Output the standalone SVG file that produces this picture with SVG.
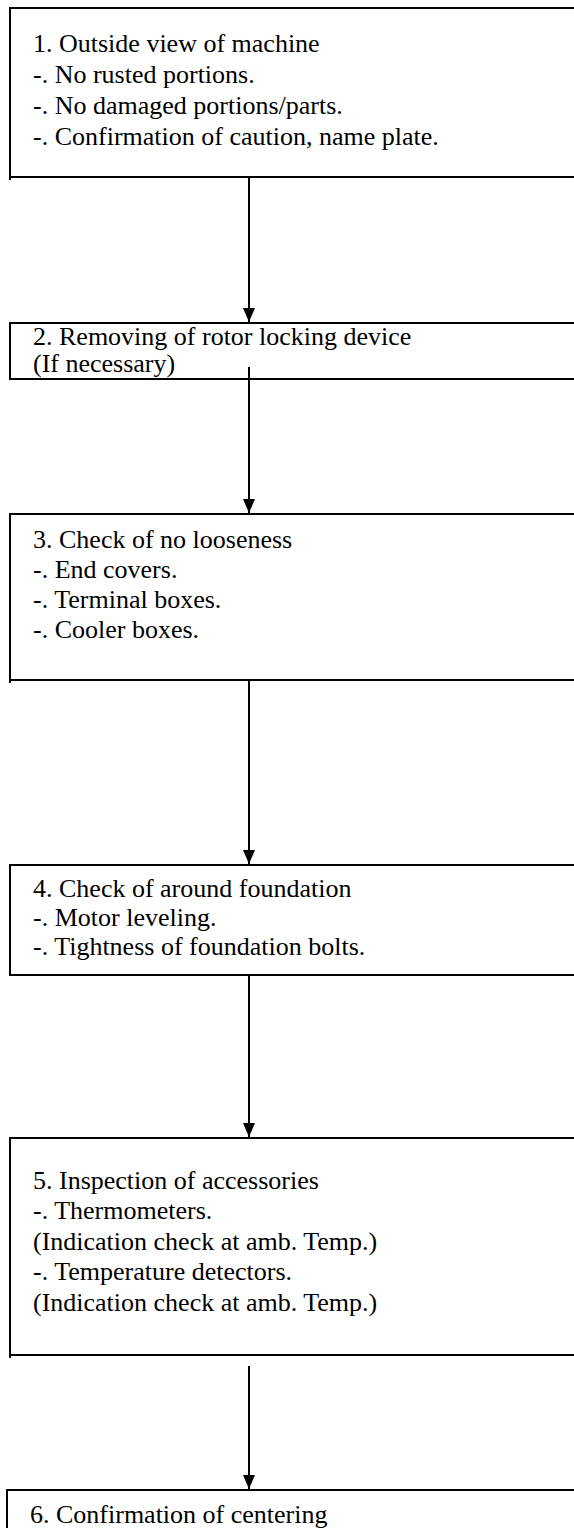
<svg xmlns="http://www.w3.org/2000/svg" width="574" height="1528" viewBox="0 0 574 1528">
<defs>
<marker id="ah" markerWidth="14" markerHeight="12" refX="14" refY="6" orient="auto" markerUnits="userSpaceOnUse" viewBox="0 0 14 12">
<path d="M0,0 L14,6 L0,12 Z" fill="#000"/>
</marker>
</defs>
<style>
.box{fill:#fff;stroke:#000;stroke-width:2}
.stub{stroke:#000;stroke-width:2}
.t{font-family:"Liberation Serif","Times New Roman",serif;font-size:26px;fill:#000}
.con{stroke:#000;stroke-width:2;fill:none}
</style>
<rect width="574" height="1528" fill="#fff"/>
<g id="node1">
<rect class="box" x="10" y="8" width="620" height="169"/>
<line class="stub" x1="10" y1="176" x2="10" y2="180"/>
<text class="t" x="33" y="52">1. Outside view of machine</text>
<text class="t" x="33" y="83">-. No rusted portions.</text>
<text class="t" x="33" y="114">-. No damaged portions/parts.</text>
<text class="t" x="33" y="145">-. Confirmation of caution, name plate.</text>
</g>
<g id="node2">
<rect class="box" x="10" y="323" width="620" height="56"/>
<text class="t" x="33" y="345">2. Removing of rotor locking device</text>
<text class="t" x="33" y="372">(If necessary)</text>
</g>
<g id="node3">
<rect class="box" x="10" y="514" width="620" height="166"/>
<line class="stub" x1="10" y1="679" x2="10" y2="683"/>
<text class="t" x="33" y="548">3. Check of no looseness</text>
<text class="t" x="33" y="578">-. End covers.</text>
<text class="t" x="33" y="608">-. Terminal boxes.</text>
<text class="t" x="33" y="638">-. Cooler boxes.</text>
</g>
<g id="node4">
<rect class="box" x="10" y="865" width="620" height="110"/>
<text class="t" x="33" y="897">4. Check of around foundation</text>
<text class="t" x="33" y="926">-. Motor leveling.</text>
<text class="t" x="33" y="955">-. Tightness of foundation bolts.</text>
</g>
<g id="node5">
<rect class="box" x="10" y="1138" width="620" height="217"/>
<line class="stub" x1="10" y1="1354" x2="10" y2="1358"/>
<text class="t" x="33" y="1189">5. Inspection of accessories</text>
<text class="t" x="33" y="1219">-. Thermometers.</text>
<text class="t" x="33" y="1250">(Indication check at amb. Temp.)</text>
<text class="t" x="33" y="1280">-. Temperature detectors.</text>
<text class="t" x="33" y="1311">(Indication check at amb. Temp.)</text>
</g>
<g id="node6">
<rect class="box" x="7" y="1490" width="620" height="60"/>
<text class="t" x="30" y="1523">6. Confirmation of centering</text>
</g>
<g id="connectors">
<line class="con" x1="249" y1="177" x2="249" y2="322" marker-end="url(#ah)"/>
<line class="con" x1="249" y1="367" x2="249" y2="513" marker-end="url(#ah)"/>
<line class="con" x1="249" y1="680" x2="249" y2="864" marker-end="url(#ah)"/>
<line class="con" x1="249" y1="975" x2="249" y2="1137" marker-end="url(#ah)"/>
<line class="con" x1="249" y1="1366" x2="249" y2="1489" marker-end="url(#ah)"/>
</g>
</svg>
